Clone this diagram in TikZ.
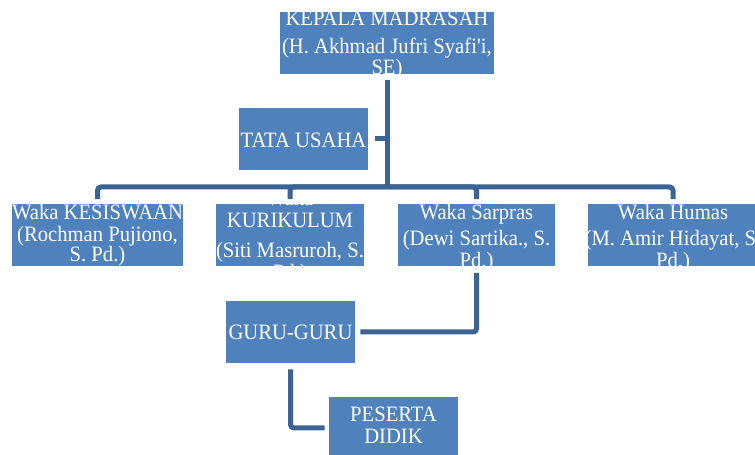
\documentclass[tikz,border=0pt]{standalone}
\usepackage{fontspec}
\setmainfont{Liberation Serif}[FakeStretch=0.94]
\definecolor{orgBlue}{HTML}{4F81BD}
\definecolor{orgLine}{HTML}{3B6494}
\usetikzlibrary{positioning}
\tikzset{
  orgbox/.style={fill=orgBlue, inner sep=0pt, minimum height=1.24cm},
  boxtext/.style={text=white, align=center, inner sep=0pt,
    font=\fontsize{12.5}{12.5}\selectfont},
  conn/.style={draw=orgLine, line width=0.1cm, rounded corners=2pt},
}

\begin{document}
\begin{tikzpicture}[x=0.02cm, y=-0.02cm]
  \clip (0,0) rectangle (755,455);
  % boxes
  \node[orgbox, minimum width=4.28cm] (kepala) at (387,43) {};
  \node[orgbox, minimum width=2.58cm] (tata) at (303.5,139) {};
  \node[orgbox, minimum width=3.42cm] (waka1) at (97.5,235.5) {};
  \node[orgbox, minimum width=2.96cm] (waka2) at (290,235.5) {};
  \node[orgbox, minimum width=3.14cm] (waka3) at (476.5,235.5) {};
  \node[orgbox, minimum width=3.40cm] (waka4) at (673,235.5) {};
  \node[orgbox, minimum width=2.58cm] (guru) at (290.5,332) {};
  \node[orgbox, minimum width=2.58cm] (peserta) at (393.5,428) {};
  % texts
  \node[boxtext] (kepalaT) at ([yshift=-0.04cm]kepala) {KEPALA MADRASAH\\[3.5pt](H. Akhmad Jufri Syafi\textquotesingle i,\\[-1pt]SE)};
  \node[boxtext] (tataT) at ([yshift=-0.02cm]tata) {TATA USAHA};
  \node[boxtext] (waka1T) at (waka1) {Waka KESISWAAN\\(Rochman Pujiono,\\[-1pt]S. Pd.)};
  \node[boxtext] (waka2T) at ([yshift=-0.04cm]waka2) {Waka\\KURIKULUM\\[4.5pt](Siti Masruroh, S.\\Pd.)};
  \node[boxtext] (waka3T) at ([yshift=-0.06cm]waka3) {Waka Sarpras\\[2.3pt](Dewi Sartika., S.\\Pd.)};
  \node[boxtext] (waka4T) at ([yshift=-0.06cm]waka4) {Waka Humas\\[2.3pt](M. Amir Hidayat, S.\\Pd.)};
  \node[boxtext] (guruT) at (guru) {GURU-GURU};
  \node[boxtext] (pesertaT) at ([yshift=0.06cm]peserta) {PESERTA\\DIDIK};
  % connectors
  \coordinate (bus) at (387,187);
  \draw[conn, shorten <=0.12cm] (kepala) -- (bus);
  \draw[conn, shorten <=0.14cm] (tata.east) -- (tata.east -| bus);
  \foreach \w in {waka1,waka2,waka3,waka4}
    \draw[conn, shorten <=0.1cm] (\w.north) |- (bus);
  \draw[conn, shorten <=0.12cm, shorten >=0.1cm] (waka3.south) |- (guru.east);
  \draw[conn, shorten <=0.12cm, shorten >=0.08cm] (guru.south) |- (peserta.west);
\end{tikzpicture}
\end{document}
